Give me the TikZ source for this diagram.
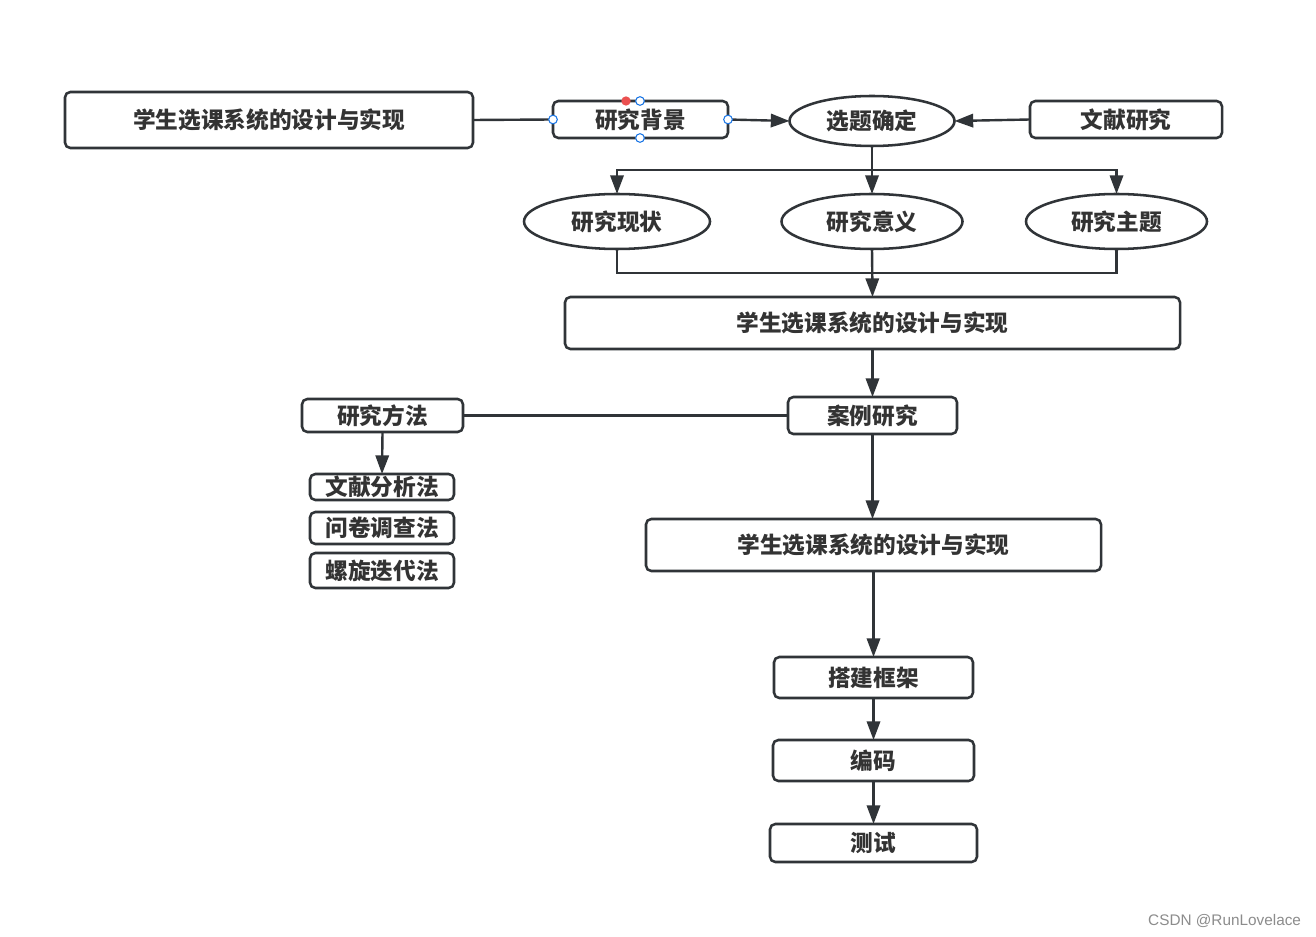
\documentclass[tikz,border=0pt]{standalone}
\usepackage{fontspec}
\newfontfamily\cjk{Noto Sans CJK SC}
\setmainfont{Liberation Sans}
\usetikzlibrary{arrows.meta,shapes.geometric}
\definecolor{ink}{RGB}{48,52,56}
\definecolor{txt}{RGB}{51,51,51}
\definecolor{handle}{RGB}{30,120,230}
\definecolor{reddot}{RGB}{235,80,80}
\begin{document}
\begin{tikzpicture}[x=0.75pt,y=-0.75pt,
  every node/.style={inner sep=0pt,outer sep=0pt,font=\cjk\bfseries\fontsize{17pt}{18pt}\selectfont,text=txt},
  rbox/.style={draw=ink,line width=1.9pt,rounded corners=4pt,fill=white},
  ebox/.style={draw=ink,line width=1.9pt,ellipse,fill=white},
  conn/.style={draw=ink,line width=1.8pt},
  arr/.style={conn,-{Triangle[length=14pt,width=10pt]}},
  hdl/.style={circle,draw=handle,fill=white,line width=0.8pt,minimum size=6.5pt},
]
\useasboundingbox (0,0) rectangle (1316,937);
\fill[white] (0,0) rectangle (1316,937);

% top row
\node[rbox,minimum width=306pt,minimum height=42pt] (title) at (269,120) {学生选课系统的设计与实现};
\node[rbox,minimum width=131.25pt,minimum height=27.75pt] (bg) at (640.5,119.5) {研究背景};
\node[ebox,minimum width=123.75pt,minimum height=37.5pt] (topic) at (872,121) {选题确定};
\node[rbox,minimum width=144pt,minimum height=27.75pt] (lit) at (1126,119.5) {文献研究};

% ellipses
\node[ebox,minimum width=139.5pt,minimum height=41.25pt] (s1) at (617,221.5) {研究现状};
\node[ebox,minimum width=135.75pt,minimum height=41.25pt] (s2) at (872,221.5) {研究意义};
\node[ebox,minimum width=135.75pt,minimum height=41.25pt] (s3) at (1116.5,221.5) {研究主题};

% middle
\node[rbox,minimum width=461.25pt,minimum height=39pt] (sys2) at (872.5,323) {学生选课系统的设计与实现};
\node[rbox,minimum width=126.75pt,minimum height=27.75pt] (case) at (872.5,415.5) {案例研究};
\node[rbox,minimum width=120.75pt,minimum height=24.75pt] (meth) at (382.5,415.5) {研究方法};
\node[rbox,minimum width=108pt,minimum height=19.5pt] (m1) at (382,487) {文献分析法};
\node[rbox,minimum width=108pt,minimum height=24pt] (m2) at (382,528) {问卷调查法};
\node[rbox,minimum width=108pt,minimum height=26.25pt] (m3) at (382,570.5) {螺旋迭代法};

% bottom
\node[rbox,minimum width=341.25pt,minimum height=39pt] (sys3) at (873.5,545) {学生选课系统的设计与实现};
\node[rbox,minimum width=149.25pt,minimum height=30.75pt] (frame) at (873.5,677.5) {搭建框架};
\node[rbox,minimum width=150.75pt,minimum height=30.75pt] (code) at (873.5,760.5) {编码};
\node[rbox,minimum width=155.25pt,minimum height=28.5pt] (test) at (873.5,843) {测试};

% connectors
\draw[conn] (title.east) -- (bg.west);
\draw[arr] (bg.east) -- (topic.west);
\draw[arr] (lit.west) -- (topic.east);

\coordinate (j1) at (872,170);
\draw[conn] (topic.south) -- (j1);
\draw[arr] (j1) -| (s1.north);
\draw[arr] (j1) -| (s3.north);
\draw[arr] (j1) -- (s2.north);

\coordinate (j2) at (872,273);
\draw[conn] (s1.south) |- (j2);
\draw[conn] (s3.south) |- (j2);
\draw[arr] (s2.south) -- (sys2.north);

\draw[arr] (sys2.south) -- (case.north);
\draw[conn] (meth.east) -- (case.west);
\draw[arr] (meth.south) -- (m1.north);
\draw[arr] (case.south) -- (case.south |- sys3.north);
\draw[arr] (sys3.south) -- (frame.north);
\draw[arr] (frame.south) -- (code.north);
\draw[arr] (code.south) -- (test.north);

% selection handles
\node[circle,fill=reddot,minimum size=7pt] (rd) at (626,101) {};
\node[hdl] (h1) at (bg.west) {};
\node[hdl] (h2) at (bg.east) {};
\node[hdl] (h3) at (640,101) {};
\node[hdl] (h4) at (640,138) {};

% watermark
\node[font=\fontsize{11.5pt}{13pt}\selectfont,text=black!45,anchor=east] (wm) at (1301,921) {CSDN @RunLovelace};
\end{tikzpicture}
\end{document}
